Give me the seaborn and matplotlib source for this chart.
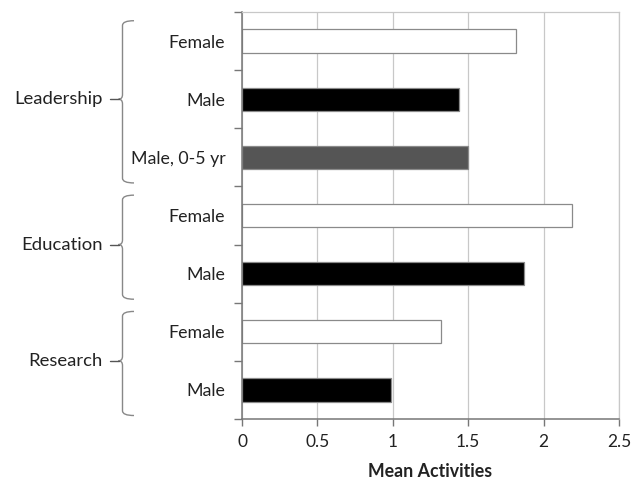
import numpy as np
import pandas as pd
import matplotlib
matplotlib.use("Agg")
import matplotlib.pyplot as plt
import matplotlib.transforms as mtransforms
from matplotlib.path import Path
from matplotlib.patches import PathPatch
import seaborn as sns

# data
rows = ["L_F", "L_M", "L_M05", "E_F", "E_M", "R_F", "R_M"]
row_labels = ["Female", "Male", "Male, 0-5 yr", "Female", "Male", "Female", "Male"]
mean_activities = [1.82, 1.44, 1.50, 2.19, 1.87, 1.32, 0.99]
bar_colors = ["white", "black", "#555555", "white", "black", "white", "black"]
groups = ["Leadership", "Education", "Research"]
group_sizes = [3, 2, 2]
xticks = [0, 0.5, 1, 1.5, 2, 2.5]
xtick_labels = ["0", "0.5", "1", "1.5", "2", "2.5"]

sns.set_style("white")
plt.rcParams["font.family"] = ["Lato", "DejaVu Sans"]

df = pd.DataFrame({"row": rows, "value": mean_activities})

fig, ax = plt.subplots(figsize=(6.33, 4.8), dpi=100)
fig.subplots_adjust(left=242/633, right=619/633, top=1-12/480, bottom=1-419/480)

sns.barplot(data=df, x="value", y="row", hue="row", order=rows,
            palette=dict(zip(rows, bar_colors)), legend=False,
            width=0.4, edgecolor="#8a8a8a", linewidth=0.9, ax=ax, orient="h")

ax.set_xlim(0, 2.5)
ax.set_ylim(len(rows) - 0.5, -0.5)
ax.set_xticks(xticks)
ax.set_xticklabels(xtick_labels, fontsize=12.5, color="#222222")
ax.set_yticks(range(len(rows)))
ax.set_yticklabels(row_labels, fontsize=12.8, color="#222222")
ax.set_yticks(np.arange(-0.5, len(rows)), minor=True)
ax.tick_params(axis="y", which="major", length=0, pad=12)
ax.tick_params(axis="y", which="minor", length=6, width=1, color="#777777", left=True)
ax.tick_params(axis="x", length=5, width=1, color="#777777", bottom=True, pad=6)
ax.set_ylabel("")
ax.set_xlabel("Mean Activities", fontsize=12.8, fontweight="bold", color="#222222", labelpad=9)

ax.grid(axis="x", color="#c8c8c8", linewidth=0.9)
ax.set_axisbelow(True)
for side in ["left", "bottom"]:
    ax.spines[side].set_color("#777777")
    ax.spines[side].set_linewidth(1.1)
ax.spines["top"].set_color("#c8c8c8")
ax.spines["right"].set_color("#c8c8c8")
ax.spines["top"].set_linewidth(0.9)
ax.spines["right"].set_linewidth(0.9)

# curly braces for the groups
trans = mtransforms.blended_transform_factory(fig.transFigure, ax.transData)
xv = 122.5 / 633
xe = 134 / 633
xt = 118.5 / 633
start = -0.5
for name, n in zip(groups, group_sizes):
    y0 = start + 0.15
    y1 = start + n - 0.06
    ym = start + n / 2
    verts = [(xe, y0), (xv, y0), (xv, y0 + 0.08),
             (xv, ym - 0.08), (xv, ym), (xt, ym),
             (xv, ym), (xv, ym + 0.08),
             (xv, y1 - 0.08), (xv, y1), (xe, y1)]
    codes = [Path.MOVETO, Path.CURVE3, Path.CURVE3,
             Path.LINETO, Path.CURVE3, Path.CURVE3,
             Path.CURVE3, Path.CURVE3,
             Path.LINETO, Path.CURVE3, Path.CURVE3]
    ax.add_patch(PathPatch(Path(verts, codes), facecolor="none", edgecolor="#888888",
                           linewidth=1, transform=trans, clip_on=False))
    ax.plot([110 / 633, xt], [ym, ym], color="#555555", linewidth=1,
            transform=trans, clip_on=False)
    ax.text(103 / 633, ym, name, transform=trans, ha="right", va="center",
            fontsize=13.3, color="#222222")
    start += n

fig.savefig("out.png", dpi=100)
